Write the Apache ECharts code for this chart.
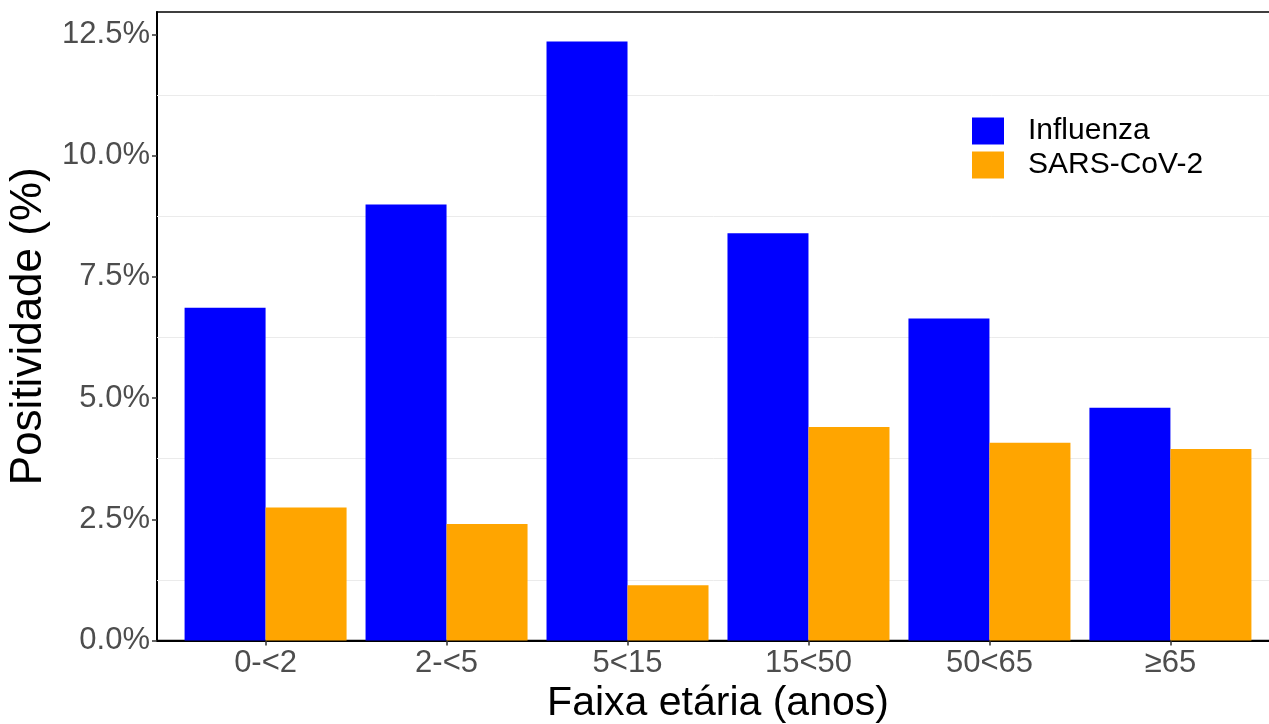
<!DOCTYPE html>
<html>
<head>
<meta charset="utf-8">
<script src="https://cdn.jsdelivr.net/npm/echarts@6/dist/echarts.min.js"></script>
<style>
  html, body { margin: 0; padding: 0; background: #fff; }
  #chart { width: 1269px; height: 724px; }
</style>
</head>
<body>
<div id="chart"></div>
<script>
const categories = ['0-<2', '2-<5', '5<15', '15<50', '50<65', '≥65'];
const influenza = [6.86, 8.99, 12.35, 8.40, 6.64, 4.80];
const sarsCov2 = [2.74, 2.40, 1.14, 4.40, 4.08, 3.95];
const seriesNames = ['Influenza', 'SARS-CoV-2'];
const yTicks = [0, 2.5, 5, 7.5, 10, 12.5];
const gridValues = [1.25, 3.75, 6.25, 8.75, 11.25];
const xPositions = categories.map((c, i) => i + 1);

const FONT = '"Liberation Sans", Arial, sans-serif';
const chart = echarts.init(document.getElementById('chart'), null, { renderer: 'canvas' });

chart.setOption({
  animation: false,
  backgroundColor: '#ffffff',
  textStyle: { fontFamily: FONT },
  grid: {
    left: 157, top: 12, width: 1122, bottom: 83.5,
    show: true, borderColor: '#000', borderWidth: 1.5, backgroundColor: '#fff',
    containLabel: false, outerBoundsMode: 'none'
  },
  legend: {
    orient: 'vertical', left: 972, top: 116, padding: 0,
    itemWidth: 32, itemHeight: 27, itemGap: 4, icon: 'rect',
    data: seriesNames,
    textStyle: { fontSize: 30, color: '#000', fontFamily: FONT, lineHeight: 27, padding: [0, 0, 0, 19] }
  },
  xAxis: {
    type: 'value', min: 0.4, max: 6.6,
    axisLine: { show: true, onZero: false, lineStyle: { color: '#000', width: 2 } },
    axisTick: { show: true, customValues: xPositions, length: 5, lineStyle: { color: '#333', width: 1.5 } },
    axisLabel: {
      customValues: xPositions, fontSize: 31, color: '#4d4d4d', margin: 7, fontFamily: FONT,
      formatter: v => categories[Math.round(v) - 1]
    },
    splitLine: { show: false },
    name: 'Faixa etária (anos)', nameLocation: 'middle', nameGap: 40,
    nameTextStyle: { fontSize: 41, color: '#000', fontFamily: FONT }
  },
  yAxis: {
    type: 'value', min: 0, max: 12.96,
    axisLine: { show: true, onZero: false, lineStyle: { color: '#000', width: 2 } },
    axisTick: { show: true, customValues: yTicks, length: 5, lineStyle: { color: '#333', width: 1.5 } },
    axisLabel: {
      customValues: yTicks, fontSize: 31, color: '#4d4d4d', margin: 7, fontFamily: FONT,
      formatter: v => v.toFixed(1) + '%'
    },
    splitLine: { show: false },
    name: 'Positividade (%)', nameLocation: 'middle', nameGap: 100, nameRotate: 90,
    nameTextStyle: { fontSize: 44, color: '#000', fontFamily: FONT }
  },
  series: [
    {
      name: 'grid', type: 'line', data: [], z: 1, silent: true,
      markLine: {
        z: 1, silent: true, symbol: ['none', 'none'], animation: false,
        label: { show: false },
        lineStyle: { color: '#ebebeb', width: 1, type: 'solid' },
        emphasis: { disabled: true },
        data: gridValues.map(v => ({ yAxis: v }))
      }
    },
    {
      name: seriesNames[0], type: 'bar', barWidth: 81, barGap: '0%', z: 2,
      itemStyle: { color: '#0000ff' },
      data: influenza.map((v, i) => [xPositions[i], v])
    },
    {
      name: seriesNames[1], type: 'bar', barWidth: 81, barGap: '0%', z: 2,
      itemStyle: { color: '#ffa500' },
      data: sarsCov2.map((v, i) => [xPositions[i], v])
    }
  ]
});
</script>
</body>
</html>
